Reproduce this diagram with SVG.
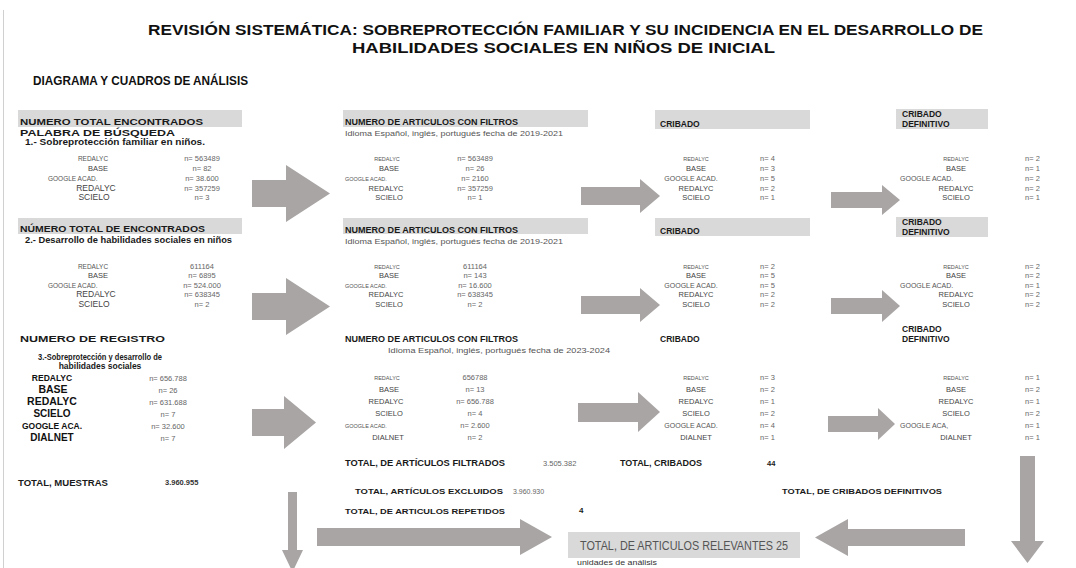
<svg xmlns="http://www.w3.org/2000/svg" width="1076" height="568" viewBox="0 0 1076 568">
<style>
text{font-family:"Liberation Sans",Arial,sans-serif}
.t{font-size:14px;font-weight:bold;fill:#111}
.h{font-size:8.5px;font-weight:bold;fill:#1a1a1a}
.sub{font-size:7.5px;fill:#555}
.s{font-size:5.5px;fill:#555}
.l{font-size:7.5px;fill:#444}
.v{font-size:7.5px;fill:#666}
.s1{font-size:6.5px;fill:#555}
.l1{font-size:8.5px;fill:#444}
.g{font-size:7px;fill:#555}
.b{font-weight:bold;fill:#111}
.m{text-anchor:middle}
.bar{fill:#d9d9d9}
.arr{fill:#a8a5a4}
</style>
<rect width="1076" height="568" fill="#fff"/>
<line x1="3.5" y1="10" x2="3.5" y2="568" stroke="#d0d0d0" stroke-width="1"/>

<g id="title">
<text class="t" x="148" y="35" textLength="835" lengthAdjust="spacingAndGlyphs">REVISIÓN SISTEMÁTICA: SOBREPROTECCIÓN FAMILIAR Y SU INCIDENCIA EN EL DESARROLLO DE</text>
<text class="t" x="352" y="53" textLength="423" lengthAdjust="spacingAndGlyphs">HABILIDADES SOCIALES EN NIÑOS DE INICIAL</text>
<text class="t" x="33" y="85" style="font-size:12px" textLength="215" lengthAdjust="spacingAndGlyphs">DIAGRAMA Y CUADROS DE ANÁLISIS</text>
</g>

<g id="connectors">
<polygon class="arr" points="252,180 286,180 286,165 330,193.5 286,222 286,207 252,207"/>
<polygon class="arr" points="252,293 286,293 286,278 330,306.5 286,335 286,320 252,320"/>
<polygon class="arr" points="252,409 284,409 284,396 316,422.5 284,449 284,436 252,436"/>
<polygon class="arr" points="581,187 640,187 640,179 660,196 640,213 640,205 581,205"/>
<polygon class="arr" points="581,296 640,296 640,288 660,305 640,322 640,314 581,314"/>
<polygon class="arr" points="578,403 638,403 638,392 660,412 638,432 638,422 578,422"/>
<polygon class="arr" points="831,192 882,192 882,185 900,200 882,215 882,208 831,208"/>
<polygon class="arr" points="831,298 882,298 882,290 900,306 882,322 882,314 831,314"/>
<polygon class="arr" points="828,416 878,416 878,408 895,424 878,440 878,432 828,432"/>
<polygon class="arr" points="1020,456 1035,456 1035,541 1044,541 1027.5,563 1011,541 1020,541"/>
<polygon class="arr" points="288,492 297,492 297,550 303,550 292.5,572 282,550 288,550"/>
<polygon class="arr" points="317,528 520,528 520,519 552,537 520,555 520,546 317,546"/>
<polygon class="arr" points="965,529 848,529 848,519 815,537.5 848,556 848,546 965,546"/>
</g>

<g id="r1c1">
<rect class="bar" x="18" y="110" width="224" height="17"/>
<text class="h" x="20" y="125" textLength="183" lengthAdjust="spacingAndGlyphs">NUMERO TOTAL ENCONTRADOS</text>
<text class="h" x="20" y="136" textLength="155" lengthAdjust="spacingAndGlyphs">PALABRA DE BÚSQUEDA</text>
<text class="h" x="25" y="145" textLength="180" lengthAdjust="spacingAndGlyphs">1.- Sobreprotección familiar en niños.</text>
<text class="s1 m" x="93" y="161">REDALYC</text><text class="v m" x="202" y="161">n= 563489</text>
<text class="l m" x="98" y="171">BASE</text><text class="v m" x="202" y="171">n= 82</text>
<text class="s1" x="48" y="181">GOOGLE ACAD.</text><text class="v m" x="202" y="181">n= 38.600</text>
<text class="l1 m" x="96" y="191">REDALYC</text><text class="v m" x="202" y="191">n= 357259</text>
<text class="l1 m" x="94" y="200">SCIELO</text><text class="v m" x="202" y="200">n= 3</text>
</g>

<g id="r1c2">
<rect class="bar" x="343" y="110" width="245" height="17"/>
<text class="h" x="345" y="125" textLength="173" lengthAdjust="spacingAndGlyphs">NUMERO DE ARTICULOS CON FILTROS</text>
<text class="sub" x="345" y="136" textLength="218" lengthAdjust="spacingAndGlyphs">Idioma Español, inglés, portugués fecha de 2019-2021</text>
<text class="s m" x="387" y="161">REDALYC</text><text class="v m" x="475" y="161">n= 563489</text>
<text class="l m" x="389" y="171">BASE</text><text class="v m" x="475" y="171">n= 26</text>
<text class="s" x="345" y="181">GOOGLE ACAD.</text><text class="v m" x="475" y="181">n= 2160</text>
<text class="l m" x="386" y="191">REDALYC</text><text class="v m" x="475" y="191">n= 357259</text>
<text class="l m" x="389" y="200">SCIELO</text><text class="v m" x="475" y="200">n= 1</text>
</g>

<g id="r1c3">
<rect class="bar" x="655" y="110" width="155" height="19"/>
<text class="h" x="660" y="127">CRIBADO</text>
<text class="s m" x="696" y="161">REDALYC</text><text class="v" x="760" y="161">n= 4</text>
<text class="l m" x="696" y="171">BASE</text><text class="v" x="760" y="171">n= 3</text>
<text class="g m" x="691" y="181">GOOGLE ACAD.</text><text class="v" x="760" y="181">n= 5</text>
<text class="l m" x="696" y="191">REDALYC</text><text class="v" x="760" y="191">n= 2</text>
<text class="l m" x="696" y="200">SCIELO</text><text class="v" x="760" y="200">n= 1</text>
</g>

<g id="r1c4">
<rect class="bar" x="896" y="109" width="92" height="20"/>
<text class="h" x="902" y="117">CRIBADO</text>
<text class="h" x="902" y="127">DEFINITIVO</text>
<text class="s m" x="956" y="161">REDALYC</text><text class="v" x="1025" y="161">n= 2</text>
<text class="l m" x="956" y="171">BASE</text><text class="v" x="1025" y="171">n= 1</text>
<text class="g" x="900" y="181">GOOGLE ACAD.</text><text class="v" x="1025" y="181">n= 2</text>
<text class="l m" x="956" y="191">REDALYC</text><text class="v" x="1025" y="191">n= 2</text>
<text class="l m" x="956" y="200">SCIELO</text><text class="v" x="1025" y="200">n= 1</text>
</g>

<g id="r2c1">
<rect class="bar" x="18" y="218" width="224" height="16"/>
<text class="h" x="20" y="232" textLength="185" lengthAdjust="spacingAndGlyphs">NÚMERO TOTAL DE ENCONTRADOS</text>
<text class="h" x="25" y="243" textLength="207" lengthAdjust="spacingAndGlyphs">2.- Desarrollo de habilidades sociales en niños</text>
<text class="s1 m" x="93" y="269">REDALYC</text><text class="v m" x="202" y="269">611164</text>
<text class="l m" x="98" y="278">BASE</text><text class="v m" x="202" y="278">n= 6895</text>
<text class="s1" x="48" y="288">GOOGLE ACAD.</text><text class="v m" x="202" y="288">n= 524.000</text>
<text class="l1 m" x="96" y="297">REDALYC</text><text class="v m" x="202" y="297">n= 638345</text>
<text class="l1 m" x="94" y="307">SCIELO</text><text class="v m" x="202" y="307">n= 2</text>
</g>

<g id="r2c2">
<rect class="bar" x="343" y="218" width="245" height="16"/>
<text class="h" x="345" y="233" textLength="173" lengthAdjust="spacingAndGlyphs">NUMERO DE ARTICULOS CON FILTROS</text>
<text class="sub" x="345" y="244" textLength="218" lengthAdjust="spacingAndGlyphs">Idioma Español, inglés, portugués fecha de 2019-2021</text>
<text class="s m" x="387" y="269">REDALYC</text><text class="v m" x="475" y="269">611164</text>
<text class="l m" x="389" y="278">BASE</text><text class="v m" x="475" y="278">n= 143</text>
<text class="s" x="345" y="288">GOOGLE ACAD.</text><text class="v m" x="475" y="288">n= 16.600</text>
<text class="l m" x="386" y="297">REDALYC</text><text class="v m" x="475" y="297">n= 638345</text>
<text class="l m" x="389" y="307">SCIELO</text><text class="v m" x="475" y="307">n= 2</text>
</g>

<g id="r2c3">
<rect class="bar" x="655" y="218" width="155" height="18"/>
<text class="h" x="660" y="234">CRIBADO</text>
<text class="s m" x="696" y="269">REDALYC</text><text class="v" x="760" y="269">n= 2</text>
<text class="l m" x="696" y="278">BASE</text><text class="v" x="760" y="278">n= 5</text>
<text class="g m" x="691" y="288">GOOGLE ACAD.</text><text class="v" x="760" y="288">n= 5</text>
<text class="l m" x="696" y="297">REDALYC</text><text class="v" x="760" y="297">n= 2</text>
<text class="l m" x="696" y="307">SCIELO</text><text class="v" x="760" y="307">n= 2</text>
</g>

<g id="r2c4">
<rect class="bar" x="896" y="217" width="92" height="20"/>
<text class="h" x="902" y="225">CRIBADO</text>
<text class="h" x="902" y="235">DEFINITIVO</text>
<text class="s m" x="956" y="269">REDALYC</text><text class="v" x="1025" y="269">n= 2</text>
<text class="l m" x="956" y="278">BASE</text><text class="v" x="1025" y="278">n= 2</text>
<text class="g" x="900" y="288">GOOGLE ACAD.</text><text class="v" x="1025" y="288">n= 1</text>
<text class="l m" x="956" y="297">REDALYC</text><text class="v" x="1025" y="297">n= 2</text>
<text class="l m" x="956" y="307">SCIELO</text><text class="v" x="1025" y="307">n= 2</text>
</g>

<g id="r3c1">
<text class="h" x="20" y="342" textLength="145" lengthAdjust="spacingAndGlyphs">NUMERO DE REGISTRO</text>
<text class="h m" x="100" y="360" textLength="124" lengthAdjust="spacingAndGlyphs">3.-Sobreprotección y desarrollo de</text>
<text class="h m" x="100" y="369">habilidades sociales</text>
<text class="b m" x="52" y="381" style="font-size:8.5px">REDALYC</text><text class="v m" x="168" y="381">n= 656.788</text>
<text class="b m" x="53" y="393" style="font-size:10.5px">BASE</text><text class="v m" x="168" y="393">n= 26</text>
<text class="b m" x="52" y="405" style="font-size:10.5px">REDALYC</text><text class="v m" x="168" y="405">n= 631.688</text>
<text class="b m" x="52" y="417" style="font-size:10px">SCIELO</text><text class="v m" x="168" y="417">n= 7</text>
<text class="b m" x="52" y="429" style="font-size:8.5px">GOOGLE ACA.</text><text class="v m" x="168" y="429">n= 32.600</text>
<text class="b m" x="52" y="441" style="font-size:10px">DIALNET</text><text class="v m" x="168" y="441">n= 7</text>
</g>

<g id="r3c2">
<text class="h" x="345" y="342" textLength="173" lengthAdjust="spacingAndGlyphs">NUMERO DE ARTICULOS CON FILTROS</text>
<text class="sub" x="388" y="353" textLength="222" lengthAdjust="spacingAndGlyphs">Idioma Español, inglés, portugués fecha de 2023-2024</text>
<text class="s m" x="387" y="380">REDALYC</text><text class="v m" x="475" y="380">656788</text>
<text class="l m" x="389" y="392">BASE</text><text class="v m" x="475" y="392">n= 13</text>
<text class="l m" x="386" y="404">REDALYC</text><text class="v m" x="475" y="404">n= 656.788</text>
<text class="l m" x="389" y="416">SCIELO</text><text class="v m" x="475" y="416">n= 4</text>
<text class="s" x="345" y="428">GOOGLE ACAD.</text><text class="v m" x="475" y="428">n= 2.600</text>
<text class="l m" x="388" y="440">DIALNET</text><text class="v m" x="475" y="440">n= 2</text>
</g>

<g id="r3c3">
<text class="h" x="660" y="342">CRIBADO</text>
<text class="s m" x="696" y="380">REDALYC</text><text class="v" x="760" y="380">n= 3</text>
<text class="l m" x="696" y="392">BASE</text><text class="v" x="760" y="392">n= 2</text>
<text class="l m" x="696" y="404">REDALYC</text><text class="v" x="760" y="404">n= 1</text>
<text class="l m" x="696" y="416">SCIELO</text><text class="v" x="760" y="416">n= 2</text>
<text class="g m" x="691" y="428">GOOGLE ACAD.</text><text class="v" x="760" y="428">n= 4</text>
<text class="l m" x="696" y="440">DIALNET</text><text class="v" x="760" y="440">n= 1</text>
</g>

<g id="r3c4">
<text class="h" x="902" y="332">CRIBADO</text>
<text class="h" x="902" y="342">DEFINITIVO</text>
<text class="s m" x="956" y="380">REDALYC</text><text class="v" x="1025" y="380">n= 1</text>
<text class="l m" x="956" y="392">BASE</text><text class="v" x="1025" y="392">n= 2</text>
<text class="l m" x="956" y="404">REDALYC</text><text class="v" x="1025" y="404">n= 1</text>
<text class="l m" x="956" y="416">SCIELO</text><text class="v" x="1025" y="416">n= 2</text>
<text class="g" x="900" y="428">GOOGLE ACA,</text><text class="v" x="1025" y="428">n= 1</text>
<text class="l m" x="956" y="440">DIALNET</text><text class="v" x="1025" y="440">n= 1</text>
</g>

<g id="totals">
<text class="h" x="345" y="466" textLength="160" lengthAdjust="spacingAndGlyphs">TOTAL, DE ARTÍCULOS FILTRADOS</text>
<text class="v" x="543" y="466">3.505.382</text>
<text class="h" x="620" y="466" textLength="82" lengthAdjust="spacingAndGlyphs">TOTAL, CRIBADOS</text>
<text class="h" x="767" y="466" style="font-size:7.5px">44</text>
<text class="h" x="18" y="486" style="font-size:9.5px" textLength="90" lengthAdjust="spacingAndGlyphs">TOTAL, MUESTRAS</text>
<text class="h" x="165" y="485" style="font-size:7.5px;fill:#333">3.960.955</text>
<text class="h" x="355" y="494" style="font-size:8px" textLength="148" lengthAdjust="spacingAndGlyphs">TOTAL, ARTÍCULOS EXCLUIDOS</text>
<text class="v" x="513" y="494" style="font-size:7px">3.960.930</text>
<text class="h" x="782" y="494" style="font-size:8px" textLength="160" lengthAdjust="spacingAndGlyphs">TOTAL, DE CRIBADOS DEFINITIVOS</text>
<text class="h" x="345" y="514" style="font-size:8px" textLength="160" lengthAdjust="spacingAndGlyphs">TOTAL, DE ARTICULOS REPETIDOS</text>
<text class="h" x="579" y="513" style="font-size:8px">4</text>
</g>

<g id="relevantes">
<rect class="bar" x="568" y="532" width="232" height="26"/>
<text x="580" y="550" style="font-size:12px;fill:#555" textLength="208" lengthAdjust="spacingAndGlyphs">TOTAL, DE ARTICULOS RELEVANTES 25</text>
<text x="577" y="565" style="font-size:8px;fill:#333" textLength="80" lengthAdjust="spacingAndGlyphs">unidades de análisis</text>
</g>
</svg>
